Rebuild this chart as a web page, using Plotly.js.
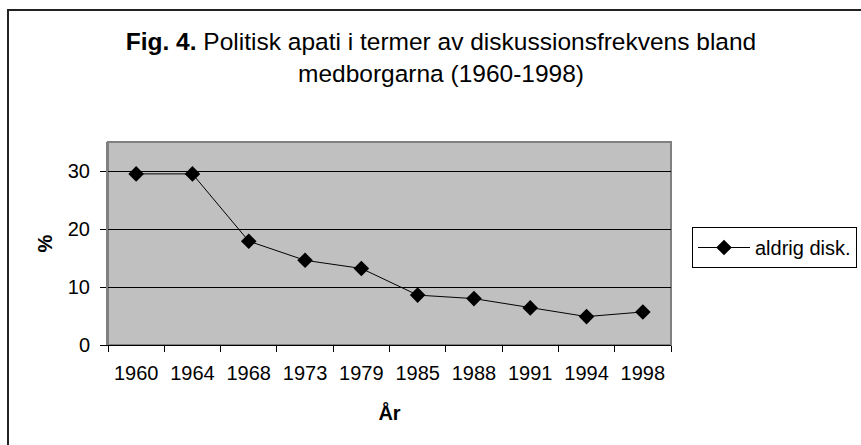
<!DOCTYPE html>
<html>
<head>
<meta charset="utf-8">
<script src="https://cdn.plot.ly/plotly-3.0.1.min.js"></script>
<style>html,body{margin:0;padding:0;background:#fff;}#chart{width:861px;height:445px;}</style>
</head>
<body>
<div id="chart"></div>
<script>
const years = ["1960","1964","1968","1973","1979","1985","1988","1991","1994","1998"];
const aldrigDisk = [29.5, 29.5, 17.9, 14.6, 13.2, 8.6, 8.0, 6.4, 4.9, 5.7];
const seriesName = "aldrig disk.";
const yTicks = [0, 10, 20, 30];

const FONT = "Liberation Sans, Arial, sans-serif";
const W = 861, H = 445;
const L = 108, R = 190, T = 142, B = 100;
const pw = W - L - R, ph = H - T - B;
const px = x => (x - L) / pw;
const py = y => (H - B - y) / ph;

const trace = {
  x: years, y: aldrigDisk, name: seriesName, type: "scatter", mode: "lines+markers",
  line: {color: "#000", width: 1},
  marker: {symbol: "diamond", size: 12, color: "#000"},
  showlegend: true
};

const layout = {
  width: W, height: H,
  margin: {l: L, r: R, t: T, b: B, pad: 0, autoexpand: false},
  paper_bgcolor: "#fff", plot_bgcolor: "#C0C0C0",
  font: {family: FONT, size: 20, color: "#000"},
  title: {
    text: "<b>Fig. 4.</b> Politisk apati i termer av diskussionsfrekvens bland<br>medborgarna (1960-1998)",
    font: {family: FONT, size: 24.5, color: "#000"},
    xref: "container", x: 441 / W, xanchor: "center",
    yref: "container", y: 1 - 50 / H, yanchor: "top"
  },
  xaxis: {
    type: "category", tickson: "boundaries", ticks: "outside", ticklen: 6, tickcolor: "#000",
    showline: true, linecolor: "#000", linewidth: 1, showgrid: false, zeroline: false,
    ticklabelstandoff: 10,
    tickfont: {family: FONT, size: 20, color: "#000"},
    title: {text: "<b>År</b>", font: {family: FONT, size: 20, color: "#000"}, standoff: 22},
    range: [-0.5, years.length - 0.5], fixedrange: true
  },
  yaxis: {
    range: [0, 35], tickvals: yTicks, ticktext: yTicks.map(String),
    ticks: "outside", ticklen: 6, tickcolor: "#000", ticklabelstandoff: 6,
    showline: true, linecolor: "#808080", linewidth: 2,
    showgrid: true, gridcolor: "#000", gridwidth: 1, zeroline: false,
    tickfont: {family: FONT, size: 20, color: "#000"},
    title: {text: "<b>%</b>", font: {family: FONT, size: 20, color: "#000"}, standoff: 10},
    fixedrange: true
  },
  legend: {
    x: px(692), y: py(227), xanchor: "left", yanchor: "top",
    bgcolor: "#fff", bordercolor: "#000", borderwidth: 1,
    font: {family: FONT, size: 20, color: "#000"}, itemwidth: 52
  },
  shapes: [
    {type: "rect", xref: "paper", yref: "paper", x0: 0, x1: 1, y0: 0, y1: 1,
     line: {color: "#808080", width: 2}, layer: "below"},
    {type: "rect", xref: "paper", yref: "paper", x0: px(8), x1: px(920), y0: py(10), y1: py(500),
     line: {color: "#222", width: 2}, fillcolor: "rgba(0,0,0,0)", layer: "below"}
  ],
  showlegend: true
};

Plotly.newPlot("chart", [trace], layout, {displayModeBar: false, staticPlot: true});
</script>
</body>
</html>
